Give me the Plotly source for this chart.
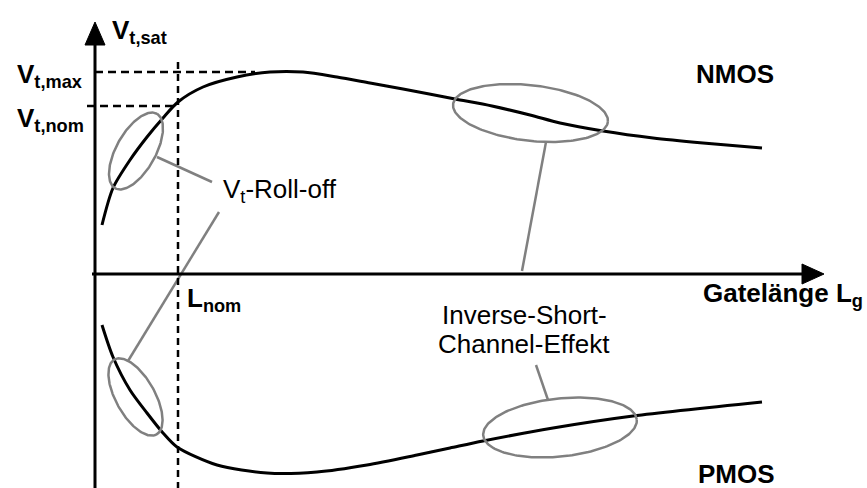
import numpy as np
import plotly.graph_objects as go

# Threshold voltage vs. gate length (schematic units, origin at axis crossing)
L_nmos = [7, 18, 35, 52, 68, 83, 108, 142, 175, 208, 242, 275, 308, 360, 397, 435, 465, 508, 558, 608, 667]
Vt_nmos = [49, 86, 114, 137, 156, 172, 187, 197, 202, 202, 197, 191, 185, 175, 168, 159, 151, 143, 136, 131, 126]

L_pmos = [7, 18, 35, 52, 68, 82, 122, 172, 222, 272, 322, 355, 388, 458, 538, 667]
Vt_pmos = [-51, -83, -116, -139, -159, -173, -191, -199, -198, -191, -181, -174, -167, -154, -142, -128]

# Reference levels
L_nom = 83
Vt_max = 202
Vt_nom = 168

# Highlight ellipses: centre x, centre y, semi-major, semi-minor, tilt (deg)
ellipses = [
    (41, 123, 42.7, 19.6, 60.7),     # NMOS roll-off
    (40.5, -123, 43.0, 19.5, -60.7), # PMOS roll-off
    (435.5, 161, 77.9, 27.8, -6.5),  # NMOS inverse short channel
    (465, -153.5, 77.2, 29.0, 6.0),  # PMOS inverse short channel
]

# Leader lines from labels to ellipses
leaders = [
    ((62, 117), (117, 92)),
    ((124, 62), (33, -87)),
    ((451, 132), (427, 3)),
    ((453, -126), (441, -91)),
]

FONT = "Arial, Liberation Sans, sans-serif"
GRAY = "#808080"

fig = go.Figure()

# Curves
for xs, ys in ((L_nmos, Vt_nmos), (L_pmos, Vt_pmos)):
    fig.add_trace(go.Scatter(x=xs, y=ys, mode="lines",
                             line=dict(color="black", width=3, shape="spline", smoothing=0.8),
                             hoverinfo="skip", showlegend=False))

# Ellipses
t = np.linspace(0, 2 * np.pi, 200)
for cx, cy, a, b, ang in ellipses:
    th = np.deg2rad(ang)
    ex = cx + a * np.cos(t) * np.cos(th) - b * np.sin(t) * np.sin(th)
    ey = cy + a * np.cos(t) * np.sin(th) + b * np.sin(t) * np.cos(th)
    fig.add_trace(go.Scatter(x=ex, y=ey, mode="lines",
                             line=dict(color=GRAY, width=2.5),
                             hoverinfo="skip", showlegend=False))

shapes = []
# Leader lines
for (x0, y0), (x1, y1) in leaders:
    shapes.append(dict(type="line", x0=x0, y0=y0, x1=x1, y1=y1,
                       line=dict(color=GRAY, width=2.5)))

# Dashed reference lines
shapes.append(dict(type="line", x0=0, y0=Vt_max, x1=160, y1=Vt_max,
                   line=dict(color="black", width=2.5, dash="8px,5px")))
shapes.append(dict(type="line", x0=-8, y0=Vt_nom, x1=L_nom, y1=Vt_nom,
                   line=dict(color="black", width=2.5, dash="8px,5px")))
shapes.append(dict(type="line", x0=L_nom, y0=212, x1=L_nom, y1=-214,
                   line=dict(color="black", width=2.5, dash="7px,5px")))

# Axes with arrowheads
shapes.append(dict(type="line", x0=0, y0=-214, x1=0, y1=232,
                   line=dict(color="black", width=3)))
shapes.append(dict(type="path", path="M -10 229 L 10 229 L 0 252 Z",
                   fillcolor="black", line=dict(color="black", width=1)))
shapes.append(dict(type="line", x0=-3, y0=0, x1=710, y1=0,
                   line=dict(color="black", width=3)))
shapes.append(dict(type="path", path="M 707 10 L 707 -10 L 729 0 Z",
                   fillcolor="black", line=dict(color="black", width=1)))

def label(text, x, y, xanchor="left", bold=False, size=26):
    if bold:
        text = "<b>" + text + "</b>"
    return dict(text=text, x=x, y=y, xref="x", yref="y", showarrow=False,
                xanchor=xanchor, yanchor="middle",
                font=dict(family=FONT, size=size, color="black"))

annotations = [
    label("V<sub>t,sat</sub>", 15, 243, bold=True),
    label("V<sub>t,max</sub>", -80, 199, bold=True),
    label("V<sub>t,nom</sub>", -80, 155, bold=True),
    label("L<sub>nom</sub>", 90, -25, bold=True),
    label("Gatelänge L<sub>g</sub>", 606, -20, bold=True),
    label("NMOS", 599, 200, bold=True),
    label("PMOS", 601, -200, bold=True),
    label("V<sub>t</sub>-Roll-off", 126, 84),
    label("Inverse-Short-", 429, -41, xanchor="center"),
    label("Channel-Effekt", 429, -70, xanchor="center"),
]

fig.update_layout(
    width=867, height=488,
    margin=dict(l=0, r=0, t=0, b=0),
    paper_bgcolor="white", plot_bgcolor="white",
    xaxis=dict(range=[-95, 772], visible=False, fixedrange=True),
    yaxis=dict(range=[-214, 274], visible=False, fixedrange=True),
    shapes=shapes, annotations=annotations,
    showlegend=False,
)

fig.write_html("out.html")
